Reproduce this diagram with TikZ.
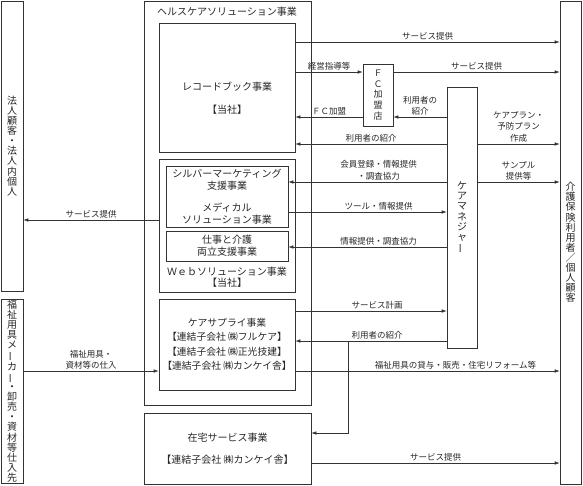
\documentclass[tikz,border=0pt]{standalone}
\usepackage{fontspec}
\setmainfont{Noto Sans CJK JP}
\usetikzlibrary{arrows.meta}
\newcommand{\vbar}{\rotatebox[origin=c]{90}{ー}}

\begin{document}
\begin{tikzpicture}[x=1pt,y=-1pt,line width=0.6pt,
  box/.style={rectangle,draw=black!80,inner sep=0pt},
  txt/.style={font=\fontsize{10}{12}\selectfont,align=center,text=black!85},
  vtxt/.style={font=\fontsize{10}{10.1}\selectfont,align=center,text=black!85},
  lbl/.style={font=\fontsize{8.5}{11.5}\selectfont,align=center,text=black!85,above,inner sep=1.5pt},
  arr/.style={draw=black!80,-{Latex[length=5pt,width=3.5pt]}}]

  \useasboundingbox (0,0) rectangle (583,485);

  % outside parties
  \node[box,vtxt,minimum width=22,minimum height=290] (corp) at (12,146) {法\\人\\顧\\客\\・\\法\\人\\内\\個\\人};
  \node[box,vtxt,minimum width=22,minimum height=184] (maker) at (12,391) {福\\祉\\用\\具\\メ\\\vbar\\カ\\\vbar\\・\\卸\\売\\・\\資\\材\\等\\仕\\入\\先};
  \node[box,vtxt,minimum width=21,minimum height=483] (cust) at (570.5,242.5) {介\\護\\保\\険\\利\\用\\者\\／\\個\\人\\顧\\客};

  % healthcare solution
  \node[box,minimum width=167,minimum height=404] (hc) at (227.5,203) {};
  \node[txt] (hct) at (227,12) {ヘルスケアソリューション事業};
  \node[box,minimum width=136,minimum height=129] (rb) at (227,87.5) {};
  \node[txt] (rbt) at (227,98.5) {レコードブック事業\\[11pt]【当社】};
  \node[box,minimum width=136,minimum height=133] (web) at (227,225.5) {};
  \node[box,txt,minimum width=122,minimum height=61] (silver) at (227,196.5) {シルバーマーケティング\\支援事業\\[10pt]メディカル\\ソリューション事業};
  \node[box,txt,minimum width=122,minimum height=30] (work) at (227,246) {仕事と介護\\両立支援事業};
  \node[txt,font=\fontsize{10}{11}\selectfont] (webt) at (227,277) {Ｗｅｂソリューション事業\\【当社】};
  \node[box,txt,minimum width=136,minimum height=91,font=\fontsize{9.8}{14.5}\selectfont] (cs) at (227,344.5) {ケアサプライ事業\\【連結子会社 ㈱フルケア】\\【連結子会社 ㈱正光技建】\\【連結子会社 ㈱カンケイ舎】};
  \node[box,txt,minimum width=167,minimum height=71] (home) at (227.5,448.5) {在宅サービス事業\\[10pt]【連結子会社 ㈱カンケイ舎】};

  \node[box,vtxt,minimum width=30,minimum height=62,font=\fontsize{9}{10.8}\selectfont] (fc) at (378,95) {Ｆ\\Ｃ\\加\\盟\\店};
  \node[box,vtxt,minimum width=30,minimum height=261] (cm) at (462,217.5) {ケ\\ア\\マ\\ネ\\ジ\\ャ\\\vbar};

  % flows
  \draw[arr] (rb.east |- 0,42) -- node[lbl]{サービス提供} (cust.west |- 0,42);
  \draw[arr] (rb.east |- 0,72) -- node[lbl]{経営指導等} (fc.west |- 0,72);
  \draw[arr] (fc.east |- 0,72) -- node[lbl]{サービス提供} (cust.west |- 0,72);
  \draw[arr] (fc.west |- 0,117) -- node[lbl]{ＦＣ加盟} (rb.east |- 0,117);
  \draw[arr] (cm.west |- 0,117) -- node[lbl]{利用者の\\紹介} (fc.east |- 0,117);
  \draw[arr] (cm.west |- 0,144) -- node[lbl]{利用者の紹介} (rb.east |- 0,144);
  \draw[arr] (cm.east |- 0,144) -- node[lbl]{ケアプラン・\\予防プラン\\作成} (cust.west |- 0,144);
  \draw[arr] (cm.west |- 0,182) -- node[lbl,xshift=11]{会員登録・情報提供\\・調査協力} (silver.east |- 0,182);
  \draw[arr] (cm.east |- 0,182) -- node[lbl]{サンプル\\提供等} (cust.west |- 0,182);
  \draw[arr] (silver.east |- 0,212) -- node[lbl,xshift=11]{ツール・情報提供} (cm.west |- 0,212);
  \draw[arr] (cm.west |- 0,247) -- node[lbl,xshift=11]{情報提供・調査協力} (work.east |- 0,247);
  \draw[arr] (web.west |- 0,220) -- node[lbl]{サービス提供} (corp.east |- 0,220);
  \draw[arr] (cs.east |- 0,311) -- node[lbl,xshift=6]{サービス計画} (cm.west |- 0,311);
  \draw[arr] (cm.west |- 0,341) -- node[lbl,xshift=6]{利用者の紹介} (cs.east |- 0,341);
  \coordinate (br) at (348,341);
  \draw[arr] (br) |- (home.east |- 0,433);
  \draw[arr] (cs.east |- 0,371) -- node[lbl,xshift=28]{福祉用具の貸与・販売・住宅リフォーム等} (cust.west |- 0,371);
  \draw[arr] (home.east |- 0,463) -- node[lbl]{サービス提供} (cust.west |- 0,463);
  \draw[arr] (maker.east |- 0,371) -- node[lbl]{福祉用具・\\資材等の仕入} (cs.west |- 0,371);
\end{tikzpicture}
\end{document}
